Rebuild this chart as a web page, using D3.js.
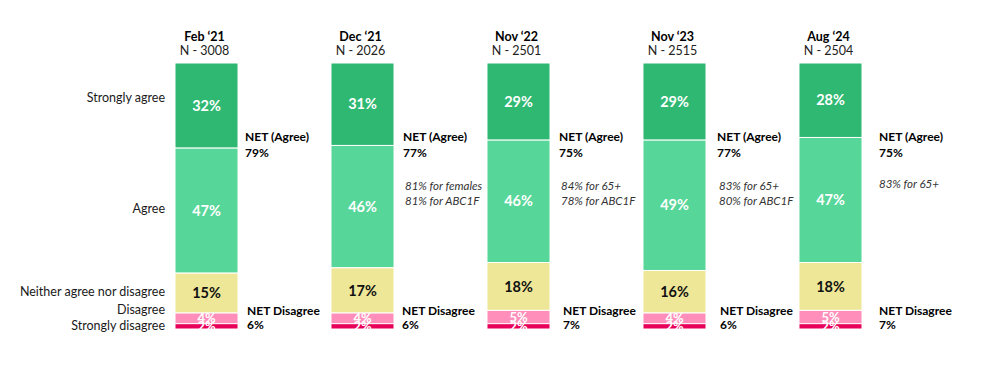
<!DOCTYPE html>
<html>
<head>
<meta charset="utf-8">
<script src="https://cdn.jsdelivr.net/npm/d3@7"></script>
<style>
  body { margin: 0; background: #fff; }
  svg text { font-family: Lato, "Open Sans", sans-serif; }
</style>
</head>
<body>
<svg id="chart" width="986" height="373"></svg>
<script>
// waves and sample sizes
var waves = ["Feb \u201821", "Dec \u201821", "Nov \u201822", "Nov \u201823", "Aug \u201824"];
var sampleSizes = ["N - 3008", "N - 2026", "N - 2501", "N - 2515", "N - 2504"];

var categories = ["Strongly agree", "Agree", "Neither agree nor disagree", "Disagree", "Strongly disagree"];

// percent per wave, one array per answer
var stronglyAgree = [32, 31, 29, 29, 28];
var agree = [47, 46, 46, 49, 47];
var neither = [15, 17, 18, 16, 18];
var disagree = [4, 4, 5, 4, 5];
var stronglyDisagree = [2, 2, 2, 2, 2];

var netAgree = [79, 77, 75, 77, 75];
var netDisagree = [6, 6, 7, 6, 7];

var subgroupNotes = [
    [],
    ["81% for females", "81% for ABC1F"],
    ["84% for 65+", "78% for ABC1F"],
    ["83% for 65+", "80% for ABC1F"],
    ["83% for 65+"]
];

var colors = ["#2eb872", "#57d699", "#eee797", "#ff8fba", "#e8005a"];
var labelColors = ["#fff", "#fff", "#111", "#fff", "#fff"];

var series = [stronglyAgree, agree, neither, disagree, stronglyDisagree];

var svg = d3.select("#chart");

var x = d3.scaleBand()
    .domain(waves)
    .range([175, 862])
    .paddingInner(0.596)
    .paddingOuter(0);

var y = d3.scaleLinear()
    .domain([0, 100])
    .range([63, 329]);

// stacked rows: each wave -> segments with start/end
var rows = waves.map(function (w, i) {
    var acc = 0;
    return series.map(function (s, k) {
        var seg = { wave: w, index: i, cat: k, value: s[i], y0: acc, y1: acc + s[i] };
        acc += s[i];
        return seg;
    });
});

var segs = d3.merge(rows);

svg.append("g")
    .selectAll("rect")
    .data(segs)
    .enter().append("rect")
    .attr("x", function (d) { return x(d.wave); })
    .attr("y", function (d) { return y(d.y0); })
    .attr("width", x.bandwidth())
    .attr("height", function (d) { return y(d.y1) - y(d.y0); })
    .attr("fill", function (d) { return colors[d.cat]; })
    .attr("stroke", "#fff")
    .attr("stroke-width", 1);

svg.append("g")
    .selectAll("text")
    .data(segs)
    .enter().append("text")
    .attr("x", function (d) { return x(d.wave) + x.bandwidth() / 2; })
    .attr("y", function (d) { return y((d.y0 + d.y1) / 2); })
    .attr("dy", "0.35em")
    .attr("text-anchor", "middle")
    .attr("font-size", function (d) { return d.cat >= 3 ? 13 : 14.5; })
    .attr("font-weight", "bold")
    .attr("fill", function (d) { return labelColors[d.cat]; })
    .text(function (d) { return d.value + "%"; });

// headers
var head = svg.append("g")
    .selectAll("g")
    .data(waves)
    .enter().append("g")
    .attr("transform", function (d) { return "translate(" + (x(d) + x.bandwidth() / 2 - 2) + ",0)"; });

head.append("text")
    .attr("y", 41)
    .attr("text-anchor", "middle")
    .attr("font-size", 12.5)
    .attr("font-weight", "bold")
    .attr("fill", "#000")
    .text(function (d) { return d; });

head.append("text")
    .attr("y", 55)
    .attr("text-anchor", "middle")
    .attr("font-size", 12.5)
    .attr("fill", "#222")
    .text(function (d, i) { return sampleSizes[i]; });

// category labels on the left, pushed apart from the bottom up
var first = rows[0];
var labelNudge = [-8, -2, -1, -1, -1];
var labelY = first.map(function (d, i) { return y((d.y0 + d.y1) / 2) + labelNudge[i]; });
for (var k = labelY.length - 2; k >= 0; k--) {
    labelY[k] = Math.min(labelY[k], labelY[k + 1] - 16);
}

svg.append("g")
    .selectAll("text")
    .data(categories)
    .enter().append("text")
    .attr("x", 165)
    .attr("y", function (d, i) { return labelY[i]; })
    .attr("dy", "0.35em")
    .attr("text-anchor", "end")
    .attr("font-size", 12.5)
    .attr("fill", "#1a1a1a")
    .text(function (d) { return d; });

// NET annotations to the right of each bar
var agreeOffset = [7, 9, 9, 11, 17];
var disagreeOffset = [9, 8, 13, 14, 17];

var net = svg.append("g")
    .selectAll("g")
    .data(waves)
    .enter().append("g");

net.append("text")
    .attr("x", function (d, i) { return x(d) + x.bandwidth() + agreeOffset[i]; })
    .attr("y", 141)
    .attr("font-size", 12)
    .attr("font-weight", "bold")
    .attr("fill", "#000")
    .text("NET (Agree)");

net.append("text")
    .attr("x", function (d, i) { return x(d) + x.bandwidth() + agreeOffset[i]; })
    .attr("y", 157)
    .attr("font-size", 12)
    .attr("font-weight", "bold")
    .attr("fill", "#000")
    .text(function (d, i) { return netAgree[i] + "%"; });

net.each(function (d, i) {
    d3.select(this).selectAll("text.note")
        .data(subgroupNotes[i])
        .enter().append("text")
        .attr("class", "note")
        .attr("x", x(d) + x.bandwidth() + agreeOffset[i] + (i === 4 ? 0 : 2))
        .attr("y", function (n, j) { return (i === 4 ? 188 : 190) + j * 15; })
        .attr("font-size", 11.5)
        .attr("font-style", "italic")
        .attr("fill", "#333")
        .text(function (n) { return n; });
});

net.append("text")
    .attr("x", function (d, i) { return x(d) + x.bandwidth() + disagreeOffset[i]; })
    .attr("y", 315)
    .attr("font-size", 12)
    .attr("font-weight", "bold")
    .attr("fill", "#000")
    .text("NET Disagree");

net.append("text")
    .attr("x", function (d, i) { return x(d) + x.bandwidth() + disagreeOffset[i]; })
    .attr("y", 329)
    .attr("font-size", 12)
    .attr("font-weight", "bold")
    .attr("fill", "#000")
    .text(function (d, i) { return netDisagree[i] + "%"; });
</script>
</body>
</html>
